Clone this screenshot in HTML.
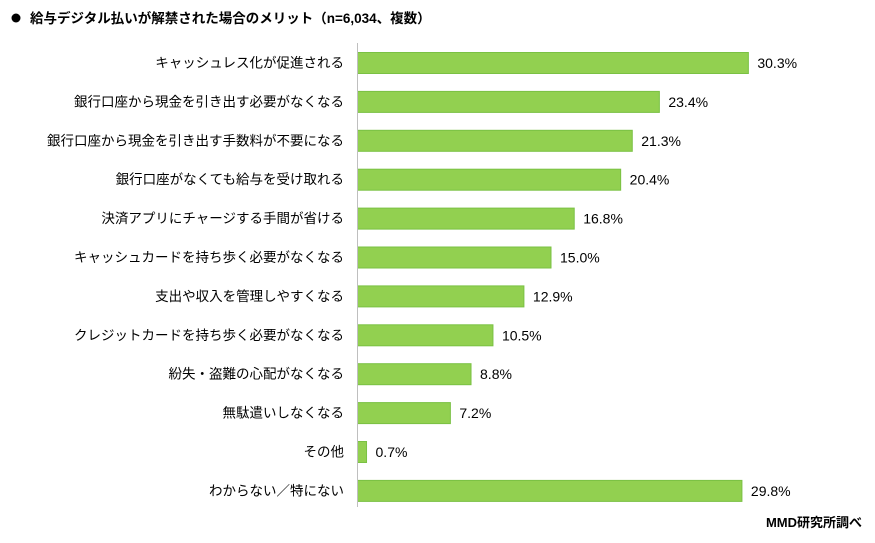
<!DOCTYPE html>
<html><head><meta charset="utf-8"><style>
body{margin:0;width:875px;height:538px;background:#fff;font-family:"Liberation Sans","Noto Sans CJK JP",sans-serif;overflow:hidden}
</style></head><body>
<svg width="875" height="538">
<circle cx="16" cy="18" r="4.5" fill="#000"/>
<text x="30" y="23" font-size="13.5" font-weight="bold" fill="#000">給与デジタル払いが解禁された場合のメリット（n=6,034、複数）</text>
<g id="bars"></g>
<line x1="357.5" y1="43" x2="357.5" y2="507" stroke="#bfbfbf" stroke-width="1"/>
<text x="862" y="527" font-size="13" font-weight="bold" text-anchor="end" fill="#000">MMD研究所調べ</text>
</svg>
<script>
const categories=["キャッシュレス化が促進される","銀行口座から現金を引き出す必要がなくなる","銀行口座から現金を引き出す手数料が不要になる","銀行口座がなくても給与を受け取れる","決済アプリにチャージする手間が省ける","キャッシュカードを持ち歩く必要がなくなる","支出や収入を管理しやすくなる","クレジットカードを持ち歩く必要がなくなる","紛失・盗難の心配がなくなる","無駄遣いしなくなる","その他","わからない／特にない"];
const values=[30.3,23.4,21.3,20.4,16.8,15.0,12.9,10.5,8.8,7.2,0.7,29.8];
const valueLabels=["30.3%","23.4%","21.3%","20.4%","16.8%","15.0%","12.9%","10.5%","8.8%","7.2%","0.7%","29.8%"];
const ns="http://www.w3.org/2000/svg";
const x0=357.5, pxPer=12.9, y0=52.5, step=38.9, bh=21;
const xs=v=>x0+v*pxPer;
const g=document.getElementById('bars');
categories.forEach((c,i)=>{
  const y=y0+i*step;
  const t=document.createElementNS(ns,'text');
  
  
  t.setAttribute('x',344);t.setAttribute('y',y+bh/2+4.5);t.setAttribute('font-size','13.5');t.setAttribute('text-anchor','end');
  t.textContent=c;g.appendChild(t);
  const r=document.createElementNS(ns,'rect');
  
  
  r.setAttribute('x',x0);r.setAttribute('y',y);r.setAttribute('width',xs(values[i])-x0);r.setAttribute('height',bh);
  r.setAttribute('fill','#92d050');r.setAttribute('stroke','#7ac143');r.setAttribute('stroke-width','1');
  g.appendChild(r);
  const v=document.createElementNS(ns,'text');
  
  
  v.setAttribute('x',xs(values[i])+9);v.setAttribute('y',y+bh/2+5);v.setAttribute('font-size','14');
  v.textContent=valueLabels[i];g.appendChild(v);
});
</script>
</body></html>
